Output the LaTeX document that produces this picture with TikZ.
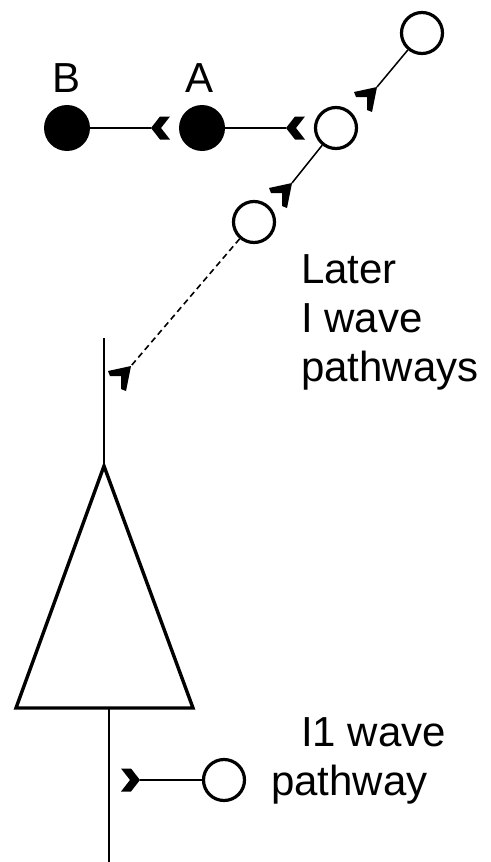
\documentclass[tikz,border=0pt]{standalone}
\usepackage{fontspec}
\setmainfont{Liberation Sans}
\begin{document}
\begin{tikzpicture}[x=1pt,y=-1pt,
  cell/.style={circle,draw=black,line width=3.2pt,minimum size=41pt,inner sep=0pt},
  fcell/.style={circle,fill=black,minimum size=46pt,inner sep=0pt},
  fibre/.style={line width=1.5pt},
  dfibre/.style={line width=1.6pt,dash pattern=on 6pt off 4pt},
  soma/.style={line width=3.4pt,line join=miter},
  syn/.style={fill=black},
  lbl/.style={font=\fontsize{42}{50}\selectfont,inner sep=0pt,anchor=base west}]
\useasboundingbox (0,0) rectangle (490,862);

% cells
\node[fcell] (B) at (67,128) {};
\node[fcell] (A) at (202,128) {};
\node[cell] (C) at (336,128) {};
\node[cell] (D) at (422,33) {};
\node[cell] (E) at (254,222) {};
\node[cell] (F) at (224,780) {};

% synapse tip coordinates
\coordinate (t1) at (151,128);
\coordinate (t2) at (286,128);
\coordinate (t3) at (377,87);
\coordinate (t4) at (292,183);
\coordinate (t5) at (131,366);
\coordinate (t6) at (140,780);

% fibres
\draw[fibre] (B) -- (t1);
\draw[fibre] (A) -- (t2);
\draw[fibre] (D) -- (t3);
\draw[fibre] (C) -- (t4);
\draw[dfibre] (E) -- (t5);
\draw[fibre] (F) -- (t6);

% synaptic terminals
\fill[syn,shift={(t1)}] (0,0) -- (9,-11.5) -- (19,-11.5) -- (10,0) -- (19,11.5) -- (9,11.5) -- cycle;
\fill[syn,shift={(t2)}] (0,0) -- (9,-11.5) -- (19,-11.5) -- (10,0) -- (19,11.5) -- (9,11.5) -- cycle;
\fill[syn,shift={(t6)}] (0,0) -- (-9,-11.5) -- (-19,-11.5) -- (-10,0) -- (-19,11.5) -- (-9,11.5) -- cycle;
\fill[syn,shift={(t3)}] (0,0) -- (-23,5) -- (-21,10) -- (-10,10) -- (-10,23) -- (-5,25) -- cycle;
\fill[syn,shift={(t4)}] (0,0) -- (-23,5) -- (-21,10) -- (-10,10) -- (-10,23) -- (-5,25) -- cycle;
\fill[syn,shift={(t5)}] (0,0) -- (-23,5) -- (-21,10) -- (-10,10) -- (-10,23) -- (-5,25) -- cycle;

% pyramidal neuron
\coordinate (dtop) at (104,338);
\coordinate (apex) at (104,466);
\coordinate (bl) at (16,708);
\coordinate (br) at (193,708);
\coordinate (bmid) at (109,708);
\coordinate (abot) at (109,862);
\draw[fibre] (dtop) -- (apex);
\draw[soma] (apex) -- (bl) -- (br) -- cycle;
\draw[fibre] (bmid) -- (abot);

% labels
\node[lbl] (lB) at (52,92) {B};
\node[lbl] (lA) at (185,92) {A};
\node[lbl] (l1) at (301,283) {Later};
\node[lbl] (l2) at (301,332) {I wave};
\node[lbl] (l3) at (301,381) {pathways};
\node[lbl] (l4) at (301,746) {I1 wave};
\node[lbl] (l5) at (271,795) {pathway};
\end{tikzpicture}
\end{document}
